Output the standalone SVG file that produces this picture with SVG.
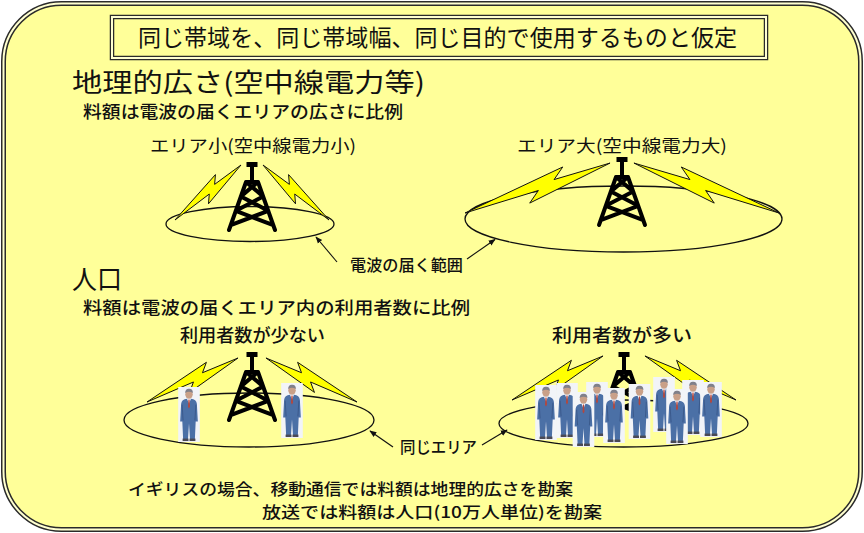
<svg xmlns="http://www.w3.org/2000/svg" xmlns:xlink="http://www.w3.org/1999/xlink" width="864" height="533" viewBox="0 0 864 533">
  <style>
    .jp { font-family: "Noto Sans CJK JP", "Noto Sans", sans-serif; fill: #111; }
    .b { font-weight: 500; }
    .frame-dark { fill: none; stroke: #2a2a2a; stroke-width: 5; }
    .frame-light { fill: none; stroke: #FFFFD0; stroke-width: 2; }
    .area { fill: none; stroke: #111; stroke-width: 1.3; }
    .mast { stroke: #000; stroke-width: 4; fill: none; stroke-linecap: round; stroke-linejoin: round; }
    .bolt { fill: #FFFF00; stroke: #111; stroke-width: 1; stroke-linejoin: miter; }
    .conn { stroke: #111; stroke-width: 1.1; fill: none; }
  </style>
  <defs>
    <marker id="arrow" viewBox="0 0 10 10" refX="9" refY="5" markerWidth="7" markerHeight="7" orient="auto" markerUnits="userSpaceOnUse">
      <path d="M0,1 L10,5 L0,9 Z" fill="#111"/>
    </marker>
    <!-- radio tower, origin at the top centre of the antenna cap -->
    <g id="tower">
      <rect x="-5.5" y="0" width="11" height="5" fill="#000"/>
      <line class="mast" x1="0" y1="5" x2="0" y2="20"/>
      <path class="mast" d="M-6,20 L6,20 M-6,20 L-23,68 M6,20 L23,68
        M-6,20 L11.1,34.4 M6,20 L-11.1,34.4
        M-11.1,34.4 L16.2,48.8 M11.1,34.4 L-16.2,48.8
        M-16.2,48.8 L21.3,63.2 M16.2,48.8 L-21.3,63.2"/>
    </g>
    <!-- lightning bolt, drawn from its tip (0,0) to its end (100,0) -->
    <path id="bolt" class="bolt" vector-effect="non-scaling-stroke" d="M0,0 L70,-9 L62,-2 L100,0 L42,9 L50,2 Z"/>
    <filter id="soft" x="-10%" y="-10%" width="120%" height="120%">
      <feGaussianBlur stdDeviation="0.45"/>
    </filter>
    <!-- standing man in a blue suit -->
    <symbol id="person" viewBox="0 0 22 56">
      <rect width="22" height="56" fill="#F2F4F8"/>
      <path d="M3,17 Q3.5,12.5 9,12 L13,12 Q18.5,12.5 19,17 L20,35 L17.8,35 L17,53 L12,53 L11,37 L10,53 L5,53 L4.2,35 L2,35 Z" fill="#4B6FA6"/>
      <path d="M4,18 L5,34 M18,18 L17,34" stroke="#3A5A8C" stroke-width="1" fill="none"/>
      <ellipse cx="11" cy="7.5" rx="3.8" ry="4.6" fill="#C9A088"/>
      <path d="M7,6 Q7.5,1.5 11,1.8 Q14.8,1.5 15,6 Q11,3.6 7,6 Z" fill="#80808A"/>
      <path d="M9,12 L11,17 L13,12 Z" fill="#FFFFFF"/>
      <path d="M10.4,12.6 L11.6,12.6 L12,20 L11,22 L10,20 Z" fill="#B4473C"/>
      <rect x="4.5" y="52.5" width="6" height="2.5" fill="#4A4A55"/>
      <rect x="11.5" y="52.5" width="6" height="2.5" fill="#4A4A55"/>
    </symbol>
  </defs>

  <!-- background panel with double frame -->
  <g id="panel">
    <rect x="3.5" y="3.5" width="857" height="526" rx="58" ry="58" fill="#FFFF99"/>
    <rect class="frame-dark" x="3.5" y="3.5" width="857" height="526" rx="58" ry="58"/>
    <rect class="frame-light" x="3.5" y="3.5" width="857" height="526" rx="58" ry="58"/>
  </g>

  <!-- assumption box -->
  <g id="title">
    <rect x="112" y="17" width="654" height="41" fill="#FFFF99"/>
    <rect x="112" y="17" width="654" height="41" fill="none" stroke="#2a2a2a" stroke-width="4.5"/>
    <rect x="112" y="17" width="654" height="41" fill="none" stroke="#FFFFD0" stroke-width="2"/>
    <text class="jp" x="138" y="46" font-size="23" textLength="599" lengthAdjust="spacingAndGlyphs">同じ帯域を、同じ帯域幅、同じ目的で使用するものと仮定</text>
  </g>

  <!-- section 1: geographic area -->
  <g id="heading-area">
    <text class="jp" x="72" y="92" font-size="26" textLength="353" lengthAdjust="spacingAndGlyphs">地理的広さ(空中線電力等)</text>
    <text class="jp b" x="83" y="118" font-size="17.5" textLength="320" lengthAdjust="spacingAndGlyphs">料額は電波の届くエリアの広さに比例</text>
  </g>

  <g id="label-small-area">
    <text class="jp" x="150" y="152" font-size="17" textLength="206" lengthAdjust="spacingAndGlyphs">エリア小(空中線電力小)</text>
  </g>
  <g id="label-large-area">
    <text class="jp" x="517" y="152" font-size="17" textLength="210" lengthAdjust="spacingAndGlyphs">エリア大(空中線電力大)</text>
  </g>

  <g id="small-area">
    <ellipse class="area" cx="250" cy="224" rx="84" ry="17.5"/>
    <g transform="translate(252,162)">
      <use href="#bolt" transform="translate(-77,58) rotate(-39.8) scale(0.859,1)"/>
      <g transform="scale(-1,1)">
        <use href="#bolt" transform="translate(-77,58) rotate(-39.8) scale(0.859,1)"/>
      </g>
      <use href="#tower"/>
    </g>
  </g>

  <g id="large-area">
    <ellipse class="area" cx="623.5" cy="219" rx="158.5" ry="33"/>
    <g transform="translate(622,157)">
      <use href="#bolt" transform="translate(-157,56) rotate(-19) scale(1.534,1.3)"/>
      <g transform="scale(-1,1)">
        <use href="#bolt" transform="translate(-157,56) rotate(-19) scale(1.534,1.3)"/>
      </g>
      <use href="#tower"/>
    </g>
  </g>

  <g id="label-coverage">
    <text class="jp b" x="350" y="271" font-size="16" textLength="113" lengthAdjust="spacingAndGlyphs">電波の届く範囲</text>
  </g>

  <!-- section 2: population -->
  <g id="heading-population">
    <text class="jp" x="72" y="289" font-size="26" textLength="50" lengthAdjust="spacingAndGlyphs">人口</text>
    <text class="jp b" x="83" y="314" font-size="17.5" textLength="387" lengthAdjust="spacingAndGlyphs">料額は電波の届くエリア内の利用者数に比例</text>
  </g>

  <g id="label-few-users">
    <text class="jp b" x="180" y="342" font-size="18" textLength="145" lengthAdjust="spacingAndGlyphs">利用者数が少ない</text>
  </g>
  <g id="label-many-users">
    <text class="jp b" x="552" y="342" font-size="18" textLength="140" lengthAdjust="spacingAndGlyphs">利用者数が多い</text>
  </g>

  <g id="few-users">
    <ellipse class="area" cx="249" cy="420" rx="125" ry="27"/>
    <g transform="translate(252,352)">
      <use href="#bolt" transform="translate(-105,50) rotate(-25.8) scale(1.011,1.1)"/>
      <g transform="scale(-1,1)">
        <use href="#bolt" transform="translate(-105,50) rotate(-25.8) scale(1.011,1.1)"/>
      </g>
      <use href="#tower"/>
    </g>
    <g filter="url(#soft)">
      <use href="#person" x="178" y="387" width="22" height="55"/>
      <use href="#person" x="281" y="383" width="22" height="55"/>
    </g>
  </g>

  <g id="many-users">
    <ellipse class="area" cx="623.5" cy="423.5" rx="124.5" ry="23.5"/>
    <g transform="translate(624,352)">
      <use href="#bolt" transform="translate(-112,48) rotate(-25.8) scale(1.011,1.1)"/>
      <g transform="scale(-1,1)">
        <use href="#bolt" transform="translate(-112,48) rotate(-25.8) scale(1.011,1.1)"/>
      </g>
      <use href="#tower"/>
    </g>
    <g filter="url(#soft)">
      <use href="#person" x="535" y="385" width="22" height="55"/>
      <use href="#person" x="556" y="383" width="22" height="55"/>
      <use href="#person" x="586" y="382" width="22" height="55"/>
      <use href="#person" x="653" y="377" width="22" height="55"/>
      <use href="#person" x="682" y="380" width="22" height="55"/>
      <use href="#person" x="700" y="382" width="22" height="55"/>
      <use href="#person" x="572" y="392" width="23" height="55"/>
      <use href="#person" x="603" y="388" width="22" height="55"/>
      <use href="#person" x="628" y="384" width="23" height="55"/>
      <use href="#person" x="666" y="389" width="22" height="55"/>
    </g>
  </g>

  <g id="label-same-area">
    <text class="jp b" x="400" y="453" font-size="16" textLength="77" lengthAdjust="spacingAndGlyphs">同じエリア</text>
  </g>

  <!-- pointers from the labels to the coverage ellipses -->
  <g id="connectors">
    <line class="conn" x1="337" y1="262" x2="316" y2="237" marker-end="url(#arrow)"/>
    <line class="conn" x1="467" y1="259" x2="495" y2="239.5" marker-end="url(#arrow)"/>
    <line class="conn" x1="393" y1="447" x2="370" y2="431" marker-end="url(#arrow)"/>
    <line class="conn" x1="482" y1="445" x2="507" y2="430" marker-end="url(#arrow)"/>
  </g>

  <g id="note">
    <text class="jp b" x="128" y="494.5" font-size="16" textLength="445" lengthAdjust="spacingAndGlyphs">イギリスの場合、移動通信では料額は地理的広さを勘案</text>
    <text class="jp b" x="262" y="518" font-size="16" textLength="340" lengthAdjust="spacingAndGlyphs">放送では料額は人口(10万人単位)を勘案</text>
  </g>
</svg>
